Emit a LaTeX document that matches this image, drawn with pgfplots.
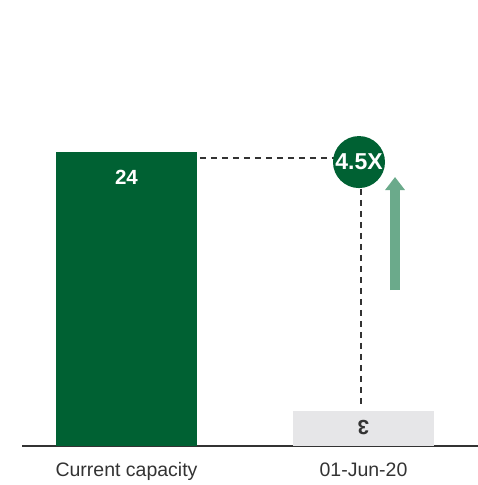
\documentclass[border=0pt]{standalone}
\usepackage{pgfplots}
\pgfplotsset{compat=1.18}
\usepackage{fontspec}
\setmainfont{Liberation Sans}
\usetikzlibrary{arrows.meta}
\definecolor{dkgreen}{HTML}{006133}
\definecolor{ltgray}{HTML}{E6E6E8}
\definecolor{arrowgreen}{HTML}{6BAA8B}
\definecolor{axisgray}{HTML}{333333}
\begin{document}
\begin{tikzpicture}[x=1pt,y=1pt]
\path[use as bounding box] (0,0) rectangle (478,485);
\begin{axis}[
  at={(22pt,39pt)}, anchor=south west,
  scale only axis, width=456pt, height=446pt,
  xmin=-0.4409, xmax=1.4831, ymin=0, ymax=36.41,
  axis y line=none, axis x line=bottom,
  x axis line style={-, axisgray, line width=2pt},
  xtick={0,1}, xticklabels={Current capacity, 01-Jun-20},
  major tick length=0pt,
  xticklabel style={font=\fontsize{19.5}{22}\selectfont, text=axisgray, yshift=-13pt},
  ybar, bar width=141pt, bar shift=0pt,
  clip=false,
]
\addplot[fill=dkgreen, draw=none] coordinates {(0,24)};
\addplot[fill=ltgray, draw=none] coordinates {(1,2.86)};
\draw[axisgray, line width=1.8pt, dash pattern=on 6pt off 5pt] (axis cs:0.31,23.5) -- (axis cs:0.90,23.5);
\draw[axisgray, line width=1.8pt, dash pattern=on 6pt off 5pt] (axis cs:0.9895,21) -- (axis cs:0.9895,3.05);
\node[circle, fill=dkgreen, minimum size=52pt, inner sep=0pt, text=white, font=\bfseries\fontsize{23}{25}\selectfont] at (axis cs:0.981,23.18) {4.5X};
\draw[arrowgreen, line width=10pt, -{Triangle[length=13pt,width=19pt]}] (axis cs:1.133,12.73) -- (axis cs:1.133,21.96);
\node[text=white, font=\bfseries\fontsize{20.5}{22}\selectfont] at (axis cs:0,21.96) {24};
\node[text=axisgray, font=\bfseries\fontsize{20.5}{22}\selectfont, rotate=180] at (axis cs:1,1.47) {3};
\end{axis}
\end{tikzpicture}
\end{document}
